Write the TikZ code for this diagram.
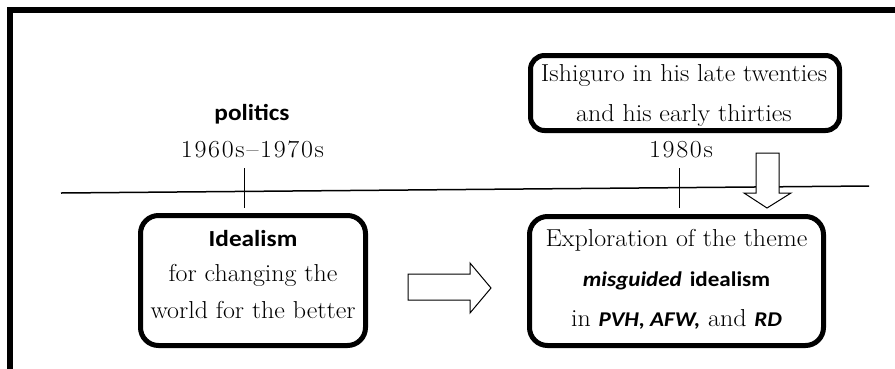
\documentclass[tikz,border=0pt]{standalone}
\usepackage{fontspec}
\setmainfont{Latin Modern Roman}[FakeStretch=1.06]
\newfontfamily\labelsans{Carlito}[FakeStretch=1.1]
% bold sans words set inside the serif lines of the right box
\newcommand\boxsans{\fontsize{21}{25}\selectfont\labelsans\bfseries}
\begin{document}
\begin{tikzpicture}[x=1pt,y=-1pt,
  roundbox/.style={draw, line width=5pt, rounded corners=18pt, inner sep=0pt},
  serif/.style={inner sep=0pt, anchor=base, font=\fontsize{24.5}{28}\selectfont},
  datelabel/.style={inner sep=0pt, anchor=base, font=\fontsize{24.5}{28}\selectfont\addfontfeature{LetterSpace=7}},
  sans/.style={inner sep=0pt, anchor=base, font=\fontsize{23}{27}\selectfont\labelsans\bfseries},
  tick/.style={line width=1pt},
  blockarrow/.style={draw, fill=white, line width=1pt, line join=miter}
]
\useasboundingbox (0,0) rectangle (895,368);

% outer frame (only its top and left sides fall on the page)
\draw[line width=6pt] (10,400) -- (10,10.3) -- (920,10.3);

% time line with its two ticks
\coordinate (tlL) at (61,193);
\coordinate (tlR) at (869,186);
\draw[line width=1.5pt] (tlL) -- (tlR);
\coordinate (t1top) at (244,168);
\coordinate (t1bot) at (244,208);
\coordinate (t2top) at (679,168);
\coordinate (t2bot) at (679,208);
\draw[tick] (t1top) -- (t1bot);
\draw[tick] (t2top) -- (t2bot);

% boxes
\node[roundbox, minimum width=225pt, minimum height=130pt] (ideal) at (253,280.5) {};
\node[roundbox, minimum width=294pt, minimum height=129pt] (explore) at (676.5,281) {};
\node[roundbox, rounded corners=14pt, minimum width=309pt, minimum height=75pt] (ishiguro) at (685,93) {};

% labels above the line
\node[sans] (politics) at (252,120) {politics};
\node[datelabel] (d1) at (252.5,157) {1960s–1970s};
\node[datelabel] (d2) at (681,157) {1980s};

% text of the upper box
\node[serif] (ish1) at (684,81.7) {Ishiguro in his late twenties};
\node[serif] (ish2) at (684,121.7) {and his early thirties};

% text of the left box
\node[sans] (id1) at (253,246) {Idealism};
\node[serif] (id2) at (253,281.7) {for changing the};
\node[serif] (id3) at (253,318.3) {world for the better};

% text of the right box
\node[serif] (ex1) at (676.5,246.7) {Exploration of the theme};
\node[serif] (ex2) at (676.5,286.7) {{\boxsans\itshape misguided} {\boxsans idealism}};
\node[serif] (ex3) at (676.5,326) {in {\boxsans\itshape PVH, AFW,} and {\boxsans\itshape RD}};

% hollow block arrows
\draw[blockarrow] (408,274) -- (470,274) -- (470,263) -- (491,288) -- (470,313) -- (470,300) -- (408,300) -- cycle;
\draw[blockarrow] (756,153) -- (779,153) -- (779,193) -- (791,193) -- (767,208) -- (744,193) -- (756,193) -- cycle;
\end{tikzpicture}
\end{document}
